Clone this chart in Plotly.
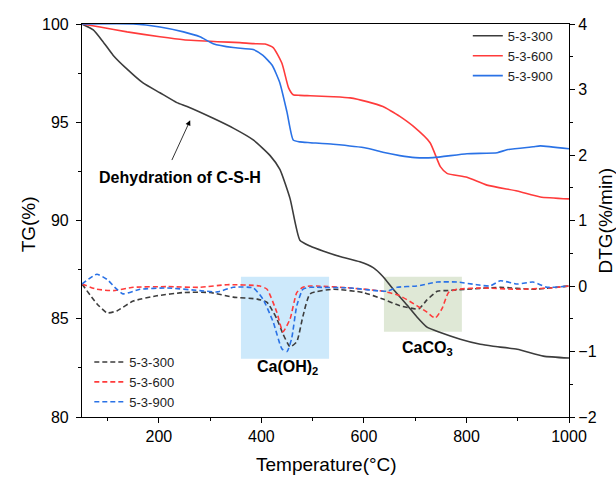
import plotly.graph_objects as go

# ---- data ----
t_tg300 = [50, 72, 91, 111, 138, 169, 202, 235, 255, 306, 345, 384, 417, 436, 456, 475, 495, 520, 553, 592, 618, 637, 657, 684, 703, 723, 749, 788, 827, 852, 899, 950, 1000]
tg300 = [100, 99.7, 99.1, 98.4, 97.7, 97.0, 96.5, 96.0, 95.8, 95.2, 94.7, 94.1, 93.3, 92.6, 91.1, 89.0, 88.7, 88.45, 88.17, 87.9, 87.6, 87.15, 86.5, 85.7, 85.1, 84.57, 84.3, 83.96, 83.7, 83.6, 83.45, 83.1, 83.0]

t_tg600 = [50, 85, 138, 202, 248, 314, 358, 384, 407, 423, 440, 453, 462, 475, 495, 540, 573, 606, 637, 651, 670, 696, 729, 749, 762, 801, 840, 899, 944, 1000]
tg600 = [100, 99.85, 99.6, 99.35, 99.2, 99.1, 99.05, 99.0, 98.98, 98.8, 98.0, 96.75, 96.4, 96.37, 96.35, 96.3, 96.24, 96.05, 95.8, 95.6, 95.3, 94.8, 93.96, 92.74, 92.4, 92.2, 91.8, 91.5, 91.2, 91.1]

t_tg900 = [50, 150, 202, 248, 280, 306, 345, 384, 403, 421, 436, 450, 462, 475, 495, 540, 606, 637, 670, 700, 735, 801, 860, 879, 930, 944, 1000]
tg900 = [100, 100, 99.85, 99.6, 99.35, 99.0, 98.8, 98.7, 98.4, 97.9, 97.0, 95.5, 94.1, 94.0, 93.96, 93.88, 93.68, 93.47, 93.3, 93.2, 93.2, 93.4, 93.45, 93.6, 93.75, 93.8, 93.65]

t_dtg300 = [50, 79, 99, 118, 150, 196, 248, 300, 345, 392, 411, 430, 442, 456, 469, 481, 495, 540, 599, 637, 670, 707, 722, 743, 760, 801, 866, 930, 1000]
dtg300 = [0.03, -0.27, -0.41, -0.38, -0.23, -0.15, -0.1, -0.1, -0.17, -0.2, -0.25, -0.5, -0.73, -0.93, -0.85, -0.46, -0.12, -0.05, -0.1, -0.2, -0.3, -0.35, -0.22, -0.08, -0.07, -0.05, -0.02, -0.05, 0.0]

t_dtg600 = [50, 79, 111, 150, 216, 280, 333, 397, 411, 430, 442, 456, 469, 481, 495, 508, 573, 637, 670, 703, 723, 739, 752, 765, 782, 832, 899, 963, 1000]
dtg600 = [0.03, -0.05, -0.07, -0.02, -0.01, -0.02, 0.02, 0.0, -0.05, -0.4, -0.7, -0.5, -0.1, -0.02, 0.0, 0.0, -0.03, -0.08, -0.15, -0.3, -0.4, -0.49, -0.35, -0.1, -0.05, -0.03, -0.05, -0.03, 0.0]

t_dtg900 = [50, 79, 99, 114, 130, 163, 216, 280, 314, 345, 384, 403, 423, 440, 450, 459, 469, 481, 495, 508, 573, 645, 665, 703, 743, 782, 820, 846, 866, 899, 930, 957, 1000]
dtg900 = [0.03, 0.18, 0.1, -0.02, -0.12, -0.05, -0.03, -0.07, -0.09, -0.02, -0.03, -0.2, -0.55, -0.96, -1.0, -0.8, -0.3, -0.05, -0.02, -0.02, -0.03, -0.08, -0.02, 0.0, 0.06, 0.06, 0.02, 0.0, 0.08, 0.03, 0.06, -0.02, 0.0]

names = ["5-3-300", "5-3-600", "5-3-900"]
colors = ["#3c3c3c", "#ff3b3b", "#2a72e6"]

FONT = "Liberation Sans, Arial, sans-serif"

fig = go.Figure()

tg_sets = [(t_tg300, tg300), (t_tg600, tg600), (t_tg900, tg900)]
dtg_sets = [(t_dtg300, dtg300), (t_dtg600, dtg600), (t_dtg900, dtg900)]

for (tx, ty), n, c in zip(tg_sets, names, colors):
    fig.add_trace(go.Scatter(x=tx, y=ty, name=n, mode="lines",
                             line=dict(color=c, width=1.6, shape="spline", smoothing=0.5),
                             legend="legend"))
for (tx, ty), n, c in zip(dtg_sets, names, colors):
    fig.add_trace(go.Scatter(x=tx, y=ty, name=n, mode="lines", yaxis="y2",
                             line=dict(color=c, width=1.6, dash="5px,3px", shape="spline", smoothing=0.5),
                             legend="legend2"))

# highlight boxes
fig.add_shape(type="rect", xref="x", yref="y2", x0=360, x1=532, y0=-1.11, y1=0.14,
              fillcolor="#cde9fb", line=dict(width=0), layer="below")
fig.add_shape(type="rect", xref="x", yref="y2", x0=639, x1=791, y0=-0.70, y1=0.14,
              fillcolor="#dfe8d6", line=dict(width=0), layer="below")

fig.add_annotation(x=450, y=-1.25, xref="x", yref="y2", text="<b>Ca(OH)<sub>2</sub></b>",
                   showarrow=False, font=dict(size=16, color="black", family=FONT))
fig.add_annotation(x=723, y=-0.95, xref="x", yref="y2", text="<b>CaCO<sub>3</sub></b>",
                   showarrow=False, font=dict(size=16, color="black", family=FONT))
fig.add_annotation(x=242, y=92.2, xref="x", yref="y", text="<b>Dehydration of C-S-H</b>",
                   showarrow=False, font=dict(size=16, color="black", family=FONT))
fig.add_annotation(x=261, y=95.1, ax=224, ay=93.0, xref="x", yref="y", axref="x", ayref="y",
                   text="", showarrow=True, arrowhead=2, arrowsize=1.3, arrowwidth=0.8,
                   arrowcolor="black")

# axis titles
fig.add_annotation(x=-0.111, y=0.49, xref="paper", yref="paper", text="TG(%)", textangle=-90,
                   xanchor="center", yanchor="middle",
                   showarrow=False, font=dict(size=19, color="black", family=FONT))
fig.add_annotation(x=1.074, y=0.5, xref="paper", yref="paper", text="DTG(%/min)", textangle=-90,
                   xanchor="center", yanchor="middle",
                   showarrow=False, font=dict(size=19, color="black", family=FONT))
fig.add_annotation(x=0.502, y=-0.122, xref="paper", yref="paper", text="Temperature(°C)",
                   xanchor="center", yanchor="middle",
                   showarrow=False, font=dict(size=19, color="black", family=FONT))

axis_common = dict(showline=True, linecolor="black", linewidth=1.2, ticks="outside",
                   ticklen=5, tickwidth=1.2, tickcolor="black", showgrid=False, zeroline=False,
                   automargin=False,
                   tickfont=dict(size=16, color="black", family=FONT))

fig.update_layout(
    width=616, height=480,
    margin=dict(l=82, r=47, t=24, b=63),
    paper_bgcolor="white", plot_bgcolor="white",
    font=dict(family=FONT, color="black"),
    xaxis=dict(range=[50, 1000], tickvals=[200, 400, 600, 800, 1000], mirror=True,
               minor=dict(tickvals=[100, 300, 500, 700, 900], ticks="outside", ticklen=3, tickcolor="black"),
               **axis_common),
    yaxis=dict(range=[80, 100], tickvals=[80, 85, 90, 95, 100], ticklabelstandoff=4,
               minor=dict(tickvals=[82.5, 87.5, 92.5, 97.5], ticks="outside", ticklen=3, tickcolor="black"),
               **axis_common),
    yaxis2=dict(range=[-2, 4], tickvals=[-2, -1, 0, 1, 2, 3, 4], overlaying="y", side="right",
                minor=dict(tickvals=[-1.5, -0.5, 0.5, 1.5, 2.5, 3.5], ticks="outside", ticklen=3, tickcolor="black"),
                **axis_common),
    legend=dict(x=0.977, y=1.008, xanchor="right", yanchor="top", bgcolor="rgba(0,0,0,0)",
                font=dict(size=13, color="#222"), itemwidth=30, tracegroupgap=0),
    legend2=dict(x=0.015, y=0.178, xanchor="left", yanchor="top", bgcolor="rgba(0,0,0,0)",
                 font=dict(size=13, color="#222"), itemwidth=30, tracegroupgap=0),
    showlegend=True,
)

# remove the default page margin so the 616x480 figure fills the window exactly
fig.write_html("out.html", config={"displayModeBar": False},
               post_script="document.body.style.margin='0';document.body.style.overflow='hidden';")
